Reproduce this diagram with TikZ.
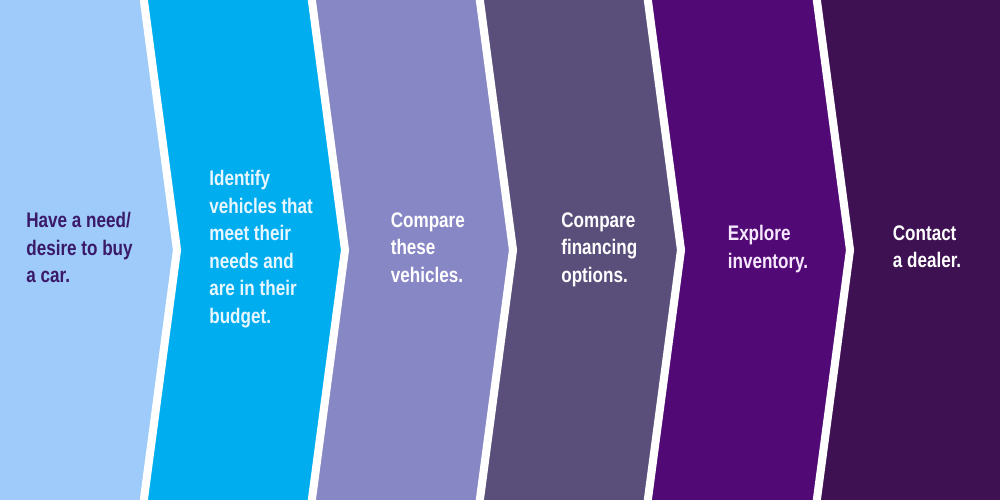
\documentclass[tikz,border=0pt]{standalone}
\usepackage{fontspec}
\setmainfont{Liberation Sans}[FakeStretch=0.81]
\usepackage{tikz}
\definecolor{stepA}{RGB}{158, 203, 250}
\definecolor{stepB}{RGB}{0, 174, 239}
\definecolor{stepC}{RGB}{136, 135, 198}
\definecolor{stepD}{RGB}{90, 79, 122}
\definecolor{stepE}{RGB}{81, 10, 117}
\definecolor{stepF}{RGB}{62, 17, 82}
\definecolor{textA}{RGB}{58, 25, 105}
\definecolor{textB}{RGB}{232, 246, 255}
\definecolor{textE}{RGB}{248, 232, 255}
\tikzset{chevron/.style = {white, line width=4.6pt, line join=miter},
         steptext/.style = {anchor=north west, align=left, inner sep=0pt,
                            font=\bfseries\fontsize{12}{15.7}\selectfont}}

\begin{document}
\begin{tikzpicture}
    \useasboundingbox (0, 0) rectangle (20, 10);
    \fill [stepA] (0, 0) rectangle (20, 10);

    \foreach \x/\c in {2.88/stepB, 6.24/stepC, 9.6/stepD, 12.96/stepE, 16.34/stepF} {
      \fill [\c] (\x, 10) -- (\x + 0.66, 5) -- (\x, 0) -- (20, 0) -- (20, 10) -- cycle;
      \draw [chevron] (\x - 0.03, 10.2) -- (\x + 0.66, 5) -- (\x - 0.03, -0.2);
    }

    \node [steptext, textA] (need) at (0.52, 5.76) {Have a need/\\desire to buy\\a car.};
    \node [steptext, textB] (identify) at (4.18, 6.6) {Identify\\vehicles that\\meet their\\needs and\\are in their\\budget.};
    \node [steptext, white] (compare) at (7.81, 5.76) {Compare\\these\\vehicles.};
    \node [steptext, white] (finance) at (11.22, 5.76) {Compare\\financing\\options.};
    \node [steptext, textE] (explore) at (14.55, 5.5) {Explore\\inventory.};
    \node [steptext, white] (dealer) at (17.85, 5.5) {Contact\\a dealer.};
  \end{tikzpicture}
\end{document}
